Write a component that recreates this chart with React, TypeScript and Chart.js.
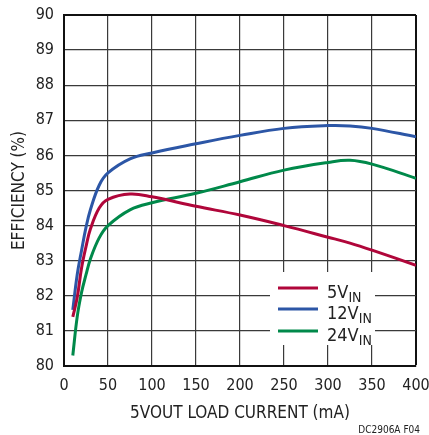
import { useEffect, useRef } from 'react';
import { Chart, registerables } from 'chart.js';

Chart.register(...registerables);

const loadCurrent = [10, 15, 20, 25, 30, 40, 50, 75, 100, 150, 200, 250, 300, 325, 350, 400];
const eff5V = [81.4, 81.95, 82.8, 83.4, 83.9, 84.5, 84.75, 84.9, 84.82, 84.55, 84.3, 84.0, 83.67, 83.5, 83.3, 82.87];
const eff12V = [81.6, 82.6, 83.3, 83.95, 84.45, 85.15, 85.5, 85.9, 86.07, 86.33, 86.57, 86.77, 86.85, 86.84, 86.77, 86.53];
const eff24V = [80.3, 81.4, 82.1, 82.6, 83.05, 83.65, 84.0, 84.45, 84.65, 84.92, 85.25, 85.58, 85.8, 85.86, 85.75, 85.35];

const seriesLabels = ['5V', '12V', '24V'];
const seriesSub = 'IN';
const seriesColors = ['#B0063A', '#2C56A6', '#00894A'];

const xTitle = '5VOUT LOAD CURRENT (mA)';
const yTitle = 'EFFICIENCY (%)';
const footnote = 'DC2906A F04';

const FONT = "'DejaVu Sans Condensed', 'Liberation Sans', sans-serif";
const TEXT = '#222';

const zeroPad = (s: any) => {
  s.paddingTop = 0;
  s.paddingBottom = 0;
  s.paddingLeft = 0;
  s.paddingRight = 0;
};

const overlayPlugin = {
  id: 'overlay',
  afterDatasetsDraw(chart: any) {
    const ctx = chart.ctx;
    ctx.save();
    ctx.fillStyle = '#fff';
    ctx.fillRect(270, 272, 105, 73);
    const rows = [288, 309, 331];
    seriesLabels.forEach((lab, i) => {
      const y = rows[i];
      ctx.strokeStyle = seriesColors[i];
      ctx.lineWidth = 3;
      ctx.beginPath();
      ctx.moveTo(278, y);
      ctx.lineTo(318, y);
      ctx.stroke();
      ctx.fillStyle = TEXT;
      ctx.textAlign = 'left';
      ctx.textBaseline = 'alphabetic';
      ctx.font = `18px ${FONT}`;
      ctx.fillText(lab, 327, y + 9.5);
      const w = ctx.measureText(lab).width;
      ctx.font = `14px ${FONT}`;
      ctx.fillText(seriesSub, 327 + w, y + 13.5);
    });
    ctx.restore();
  },
  afterDraw(chart: any) {
    const ctx = chart.ctx;
    ctx.save();
    ctx.fillStyle = TEXT;
    ctx.font = `10px ${FONT}`;
    ctx.textAlign = 'right';
    ctx.textBaseline = 'alphabetic';
    ctx.fillText(footnote, 420, 433);
    ctx.restore();
  },
};

export default function App() {
  const ref = useRef<HTMLCanvasElement>(null);
  useEffect(() => {
    if (!ref.current) return;
    const series = [eff5V, eff12V, eff24V];
    const chart = new Chart(ref.current, {
      type: 'line',
      data: {
        datasets: series.map((vals, i) => ({
          label: seriesLabels[i] + seriesSub,
          data: loadCurrent.map((x, j) => ({ x, y: vals[j] })),
          borderColor: seriesColors[i],
          borderWidth: 3,
          pointRadius: 0,
          fill: false,
          tension: 0.4,
        })),
      },
      options: {
        responsive: false,
        animation: false,
        devicePixelRatio: 1,
        layout: { padding: { top: 15, right: 13, left: 0, bottom: 0 } },
        plugins: { legend: { display: false }, tooltip: { enabled: false } },
        scales: {
          x: {
            type: 'linear',
            min: 0,
            max: 400,
            afterFit: (s: any) => { s.height = 69; zeroPad(s); },
            ticks: { stepSize: 50, color: TEXT, font: { family: FONT, size: 16 }, padding: 10, maxRotation: 0 },
            grid: {
              drawTicks: false,
              color: (c: any) => (c.tick && c.tick.value === 400 ? '#111' : '#3a3a3a'),
              lineWidth: (c: any) => (c.tick && c.tick.value === 400 ? 2 : 1.2),
            },
            border: { display: true, color: '#111', width: 2 },
            title: { display: true, text: xTitle, color: TEXT, font: { family: FONT, size: 17 }, padding: { top: 0, bottom: 11 } },
          },
          y: {
            min: 80,
            max: 90,
            afterFit: (s: any) => { s.width = 64; zeroPad(s); },
            ticks: { stepSize: 1, color: TEXT, font: { family: FONT, size: 16 }, padding: 10 },
            grid: {
              drawTicks: false,
              color: (c: any) => (c.tick && c.tick.value === 90 ? '#111' : '#3a3a3a'),
              lineWidth: (c: any) => (c.tick && c.tick.value === 90 ? 2 : 1.2),
            },
            border: { display: true, color: '#111', width: 2 },
            title: { display: true, text: yTitle, color: TEXT, font: { family: FONT, size: 17 }, padding: { top: 9, bottom: 0 } },
          },
        },
      },
      plugins: [overlayPlugin],
    });
    return () => chart.destroy();
  }, []);
  return (
    <div style={{ position: 'fixed', left: 0, top: 0, width: 429, height: 435, background: '#fff' }}>
      <canvas ref={ref} width={429} height={435} />
    </div>
  );
}
